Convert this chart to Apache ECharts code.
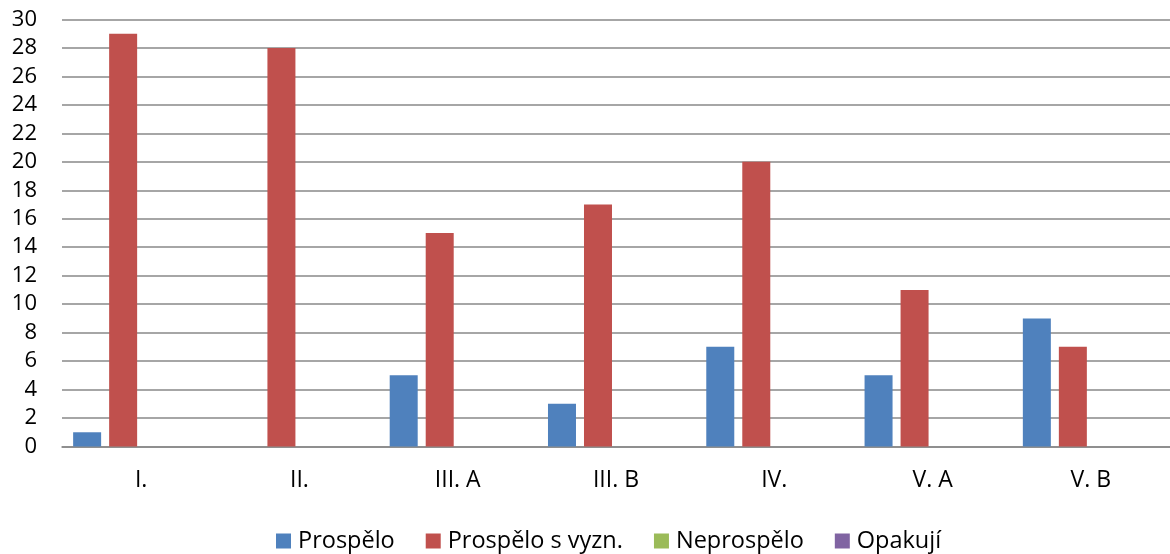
<!DOCTYPE html>
<html><head><meta charset="utf-8">
<script src="https://cdn.jsdelivr.net/npm/echarts@6/dist/echarts.min.js"></script>
<style>html,body{margin:0;padding:0;background:#fff}#c{width:1170px;height:554px}</style>
</head><body><div id="c"></div>
<script>
const categories = ['I.', 'II.', 'III. A', 'III. B', 'IV.', 'V. A', 'V. B'];
const seriesNames = ['Prospělo', 'Prospělo s vyzn.', 'Neprospělo', 'Opakují'];
const prospelo = [1, 0, 5, 3, 7, 5, 9];
const prospeloSVyzn = [29, 28, 15, 17, 20, 11, 7];
const neprospelo = [0, 0, 0, 0, 0, 0, 0];
const opakuji = [0, 0, 0, 0, 0, 0, 0];
const colors = ['#4F81BD', '#C0504D', '#9BBB59', '#8064A2'];
const font = '"Open Sans", "Liberation Sans", sans-serif';
const chart = echarts.init(document.getElementById('c'));
const data = [prospelo, prospeloSVyzn, neprospelo, opakuji];
chart.setOption({
  animation: false,
  color: colors,
  grid: {left: 62, right: 0, top: 19.5, bottom: 107.5, containLabel: false},
  legend: {
    top: 524, left: 271, itemWidth: 15, itemHeight: 15, itemGap: 31, icon: 'rect',
    textStyle: {fontFamily: font, fontSize: 23.5, color: '#000', padding: [0, 0, 0, 2]},
    data: seriesNames
  },
  xAxis: {
    type: 'category', data: categories,
    axisLine: {lineStyle: {color: '#888', width: 1.5}},
    axisTick: {show: false},
    axisLabel: {fontFamily: font, fontSize: 23, color: '#000', margin: 22}
  },
  yAxis: {
    type: 'value', min: 0, max: 30, interval: 2,
    axisLine: {show: false}, axisTick: {show: false},
    splitLine: {lineStyle: {color: '#888', width: 1.5}},
    axisLabel: {fontFamily: font, fontSize: 22, color: '#000', margin: 25}
  },
  series: seriesNames.map((n, i) => ({
    name: n, type: 'bar', data: data[i], barWidth: 28, barGap: '28.6%',
    itemStyle: {color: colors[i]}
  }))
});
</script></body></html>
